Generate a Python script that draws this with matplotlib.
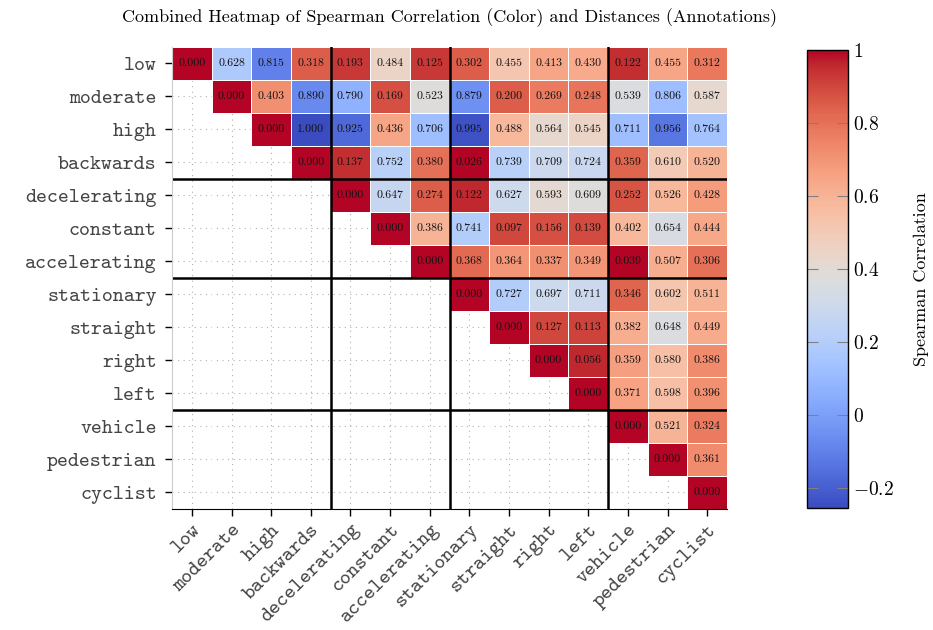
import numpy as np
import matplotlib
matplotlib.use("Agg")
import matplotlib.pyplot as plt

plt.rcParams['mathtext.fontset'] = 'cm'
plt.rcParams['axes.formatter.use_mathtext'] = True

labels = ["low", "moderate", "high", "backwards", "decelerating", "constant",
          "accelerating", "stationary", "straight", "right", "left",
          "vehicle", "pedestrian", "cyclist"]

# upper triangle rows, each starting on the diagonal
distances = [
    [0.000, 0.628, 0.815, 0.318, 0.193, 0.484, 0.125, 0.302, 0.455, 0.413, 0.430, 0.122, 0.455, 0.312],
    [0.000, 0.403, 0.890, 0.790, 0.169, 0.523, 0.879, 0.200, 0.269, 0.248, 0.539, 0.806, 0.587],
    [0.000, 1.000, 0.925, 0.436, 0.706, 0.995, 0.488, 0.564, 0.545, 0.711, 0.956, 0.764],
    [0.000, 0.137, 0.752, 0.380, 0.026, 0.739, 0.709, 0.724, 0.359, 0.610, 0.520],
    [0.000, 0.647, 0.274, 0.122, 0.627, 0.593, 0.609, 0.252, 0.526, 0.428],
    [0.000, 0.386, 0.741, 0.097, 0.156, 0.139, 0.402, 0.654, 0.444],
    [0.000, 0.368, 0.364, 0.337, 0.349, 0.039, 0.507, 0.306],
    [0.000, 0.727, 0.697, 0.711, 0.346, 0.602, 0.511],
    [0.000, 0.127, 0.113, 0.382, 0.648, 0.449],
    [0.000, 0.056, 0.359, 0.580, 0.386],
    [0.000, 0.371, 0.598, 0.396],
    [0.000, 0.521, 0.324],
    [0.000, 0.361],
    [0.000],
]

spearman = [
    [1.00, 0.18, -0.10, 0.85, 0.93, 0.45, 0.93, 0.85, 0.52, 0.65, 0.63, 0.95, 0.65, 0.78],
    [1.00, 0.72, -0.07, 0.07, 0.88, 0.38, -0.05, 0.85, 0.77, 0.79, 0.36, 0.12, 0.42],
    [1.00, -0.255, -0.17, 0.65, 0.12, -0.24, 0.58, 0.42, 0.45, 0.12, -0.13, 0.14],
    [1.00, 0.95, 0.22, 0.80, 1.00, 0.22, 0.29, 0.28, 0.83, 0.50, 0.60],
    [1.00, 0.27, 0.85, 0.96, 0.30, 0.41, 0.38, 0.87, 0.58, 0.68],
    [1.00, 0.60, 0.20, 0.90, 0.88, 0.89, 0.58, 0.35, 0.64],
    [1.00, 0.82, 0.70, 0.72, 0.70, 1.00, 0.62, 0.80],
    [1.00, 0.20, 0.30, 0.29, 0.83, 0.52, 0.60],
    [1.00, 0.90, 0.91, 0.62, 0.36, 0.63],
    [1.00, 0.96, 0.67, 0.55, 0.73],
    [1.00, 0.66, 0.55, 0.72],
    [1.00, 0.60, 0.77],
    [1.00, 0.73],
    [1.00],
]

group_breaks = [4, 7, 11]

n = len(labels)
corr = np.full((n, n), np.nan)
dist = np.full((n, n), np.nan)
for i in range(n):
    corr[i, i:] = spearman[i]
    dist[i, i:] = distances[i]

fig = plt.figure(figsize=(9.33, 6.30), dpi=100)
ax = fig.add_axes([0.1844, 0.1921, 0.5948, 0.7333])
cax = fig.add_axes([0.865, 0.1937, 0.044, 0.727])

mesh = ax.pcolormesh(np.ma.masked_invalid(corr), cmap="coolwarm",
                     vmin=-0.255, vmax=1.0, edgecolors="white", linewidth=0.6)
ax.set_xlim(0, n)
ax.set_ylim(n, 0)

for i in range(n):
    for j in range(i, n):
        ax.text(j + 0.5, i + 0.5, "%.3f" % dist[i, j], ha="center", va="center",
                fontsize=8.5, family="cmr10", color="#111111")

for b in group_breaks:
    ax.axhline(b, color="black", lw=1.8)
    ax.axvline(b, color="black", lw=1.8)

ticks = np.arange(n) + 0.5
ax.set_xticks(ticks)
ax.set_yticks(ticks)
ax.set_xticklabels(labels, rotation=45, ha="right", rotation_mode="anchor",
                   family="cmtt10", fontsize=15, color="#444444")
ax.set_yticklabels(labels, family="cmtt10", fontsize=15, color="#444444")
ax.tick_params(length=5, width=1, color="black")
ax.tick_params(axis="y", pad=6)
ax.set_axisbelow(True)
ax.grid(True, ls=(0, (1, 4)), color="#b0b0b0", lw=0.8)
for s in ["top", "right"]:
    ax.spines[s].set_visible(False)
ax.spines["left"].set_color("#cccccc")
ax.spines["bottom"].set_color("black")

ax.set_title("Combined Heatmap of Spearman Correlation (Color) and Distances (Annotations)",
             family="cmr10", fontsize=13, pad=18)

cb = fig.colorbar(mesh, cax=cax)
cb.set_ticks([-0.2, 0, 0.2, 0.4, 0.6, 0.8, 1.0])
cb.set_ticklabels(["$-0.2$", "$0$", "$0.2$", "$0.4$", "$0.6$", "$0.8$", "$1$"])
cax.tick_params(direction="in", length=8, color="gray", labelsize=14, left=True)
cb.outline.set_linewidth(1)
cb.set_label("Spearman Correlation", family="cmr10", fontsize=13, labelpad=14)

fig.savefig("out.png", dpi=100)
